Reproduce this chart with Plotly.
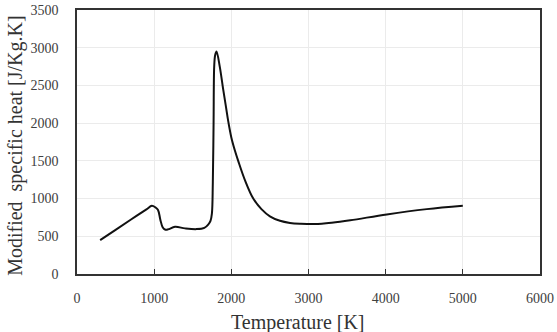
import plotly.graph_objects as go

temperature = [300, 500, 700, 900, 970, 1020, 1050, 1080, 1110, 1140, 1180, 1270, 1400, 1550,
               1650, 1700, 1730, 1748, 1760, 1770, 1778, 1790, 1808, 1850, 1894, 1930, 1959,
               2000, 2045, 2089, 2180, 2284, 2390, 2500, 2630, 2760, 2900, 3084, 3300, 3541,
               4014, 4533, 5000]
specific_heat = [450, 586, 722, 857, 905, 880, 850, 720, 620, 590, 592, 625, 605, 595,
                 612, 655, 705, 800, 1200, 2000, 2750, 2900, 2950, 2750, 2450, 2220, 2030,
                 1810, 1640, 1500, 1235, 1000, 860, 765, 705, 677, 666, 662, 680, 712,
                 790, 860, 905]

x_ticks = [0, 1000, 2000, 3000, 4000, 5000, 6000]
y_ticks = [0, 500, 1000, 1500, 2000, 2500, 3000, 3500]

x_title = "Temperature [K]"
y_title = "Modified\u00a0\u00a0specific heat [J/Kg.K]"

font_family = "Liberation Serif, DejaVu Serif, serif"

fig = go.Figure()
fig.add_trace(go.Scatter(
    x=temperature, y=specific_heat, mode="lines",
    line=dict(color="#111111", width=2, shape="spline", smoothing=1.0),
    showlegend=False,
))

axis_common = dict(
    showgrid=True, gridcolor="#ebebeb", gridwidth=1,
    showline=True, linecolor="#333333", linewidth=1.5, mirror=True,
    zeroline=False, automargin=False,
    tickfont=dict(family=font_family, size=14, color="#404040"),
)

fig.update_layout(
    width=557, height=332,
    margin=dict(l=77, r=17, t=10, b=58, autoexpand=False),
    paper_bgcolor="white", plot_bgcolor="white",
    font=dict(family=font_family, color="#333333", size=14),
    xaxis=dict(
        range=[0, 6000], tickvals=x_ticks, ticktext=[str(v) for v in x_ticks],
        ticks="inside", ticklen=5, tickcolor="#333333",
        ticklabelstandoff=10,
        **axis_common,
    ),
    yaxis=dict(
        range=[0, 3500], tickvals=y_ticks, ticktext=[str(v) for v in y_ticks],
        ticks="", ticklabelstandoff=14,
        **axis_common,
    ),
    annotations=[
        dict(text=x_title, xref="paper", yref="paper", x=0.478, y=-0.182,
             xanchor="center", yanchor="middle", showarrow=False,
             font=dict(family=font_family, size=20, color="#333333")),
        dict(text=y_title, xref="paper", yref="paper", x=-0.132, y=0.485,
             xanchor="center", yanchor="middle", showarrow=False, textangle=-90,
             font=dict(family=font_family, size=20, color="#333333")),
    ],
)

fig.write_html("out.html")
